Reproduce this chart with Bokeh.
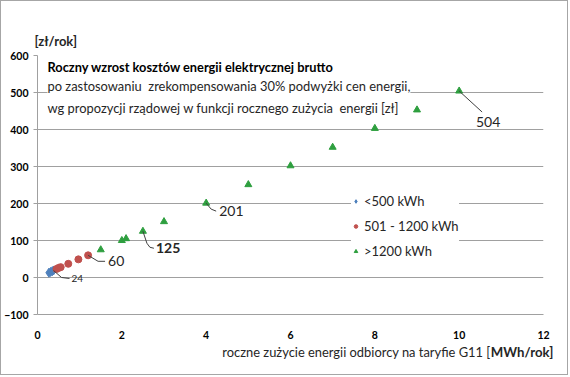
from bokeh.plotting import figure
from bokeh.models import Label, Range1d, FixedTicker, ColumnDataSource
from bokeh.embed import file_html
from bokeh.resources import INLINE

# ---- data ----
blue_x = [0.27, 0.31, 0.35, 0.38]
blue_y = [13, 15, 17, 19]
red_x = [0.45, 0.50, 0.55, 0.73, 0.97, 1.20]
red_y = [23, 26, 28, 37, 49, 60]
green_x = [1.5, 2.0, 2.1, 2.5, 3.0, 4.0, 5.0, 6.0, 7.0, 8.0, 9.0, 10.0]
green_y = [75, 100, 105, 125, 151, 201, 251, 302, 352, 403, 453, 504]
series_names = ["<500 kWh", "501 - 1200 kWh", ">1200 kWh"]
x_ticks = [0, 2, 4, 6, 8, 10, 12]
y_ticks = [-100, 0, 100, 200, 300, 400, 500, 600]
label_texts = ["24", "60", "125", "201", "504"]

FONT = "Lato"
GRID = "#a0a0a0"
TXT = "#262626"

p = figure(width=568, height=375, x_range=Range1d(0, 12), y_range=Range1d(-100, 600),
           output_backend="svg", toolbar_location=None,
           min_border_left=35, min_border_right=26, min_border_top=54, min_border_bottom=62)
p.styles = {"border": "1px solid #a6a6a6"}
p.outline_line_color = None
p.background_fill_color = "white"
p.border_fill_color = "white"

# y unit label as the plot title
p.title.text = "[zł/rok]"
p.title.align = "left"
p.title.offset = -3
p.title.standoff = 14
p.title.text_font = FONT
p.title.text_font_size = "13px"
p.title.text_font_style = "bold"
p.title.text_color = TXT

# pixel -> data helpers (frame 507 x 259 px)
DX = 12 / 507.0
DY = 700 / 259.0

# axes
p.xgrid.visible = False
p.ygrid.grid_line_color = GRID
p.ygrid.ticker = FixedTicker(ticks=y_ticks)
p.yaxis.ticker = FixedTicker(ticks=y_ticks)
p.xaxis.ticker = FixedTicker(ticks=x_ticks)
for ax in (p.xaxis[0], p.yaxis[0]):
    ax.major_label_text_font = FONT
    ax.major_label_text_font_style = "bold"
    ax.major_label_text_font_size = "10.5px"
    ax.major_label_text_color = "#000000"
    ax.minor_tick_line_color = None
p.yaxis.axis_line_color = GRID
p.yaxis.major_tick_line_color = GRID
p.yaxis.major_tick_out = 4
p.yaxis.major_tick_in = 0
p.yaxis.major_label_standoff = 5
p.xaxis.axis_line_color = GRID
p.xaxis.major_tick_line_color = None
p.xaxis.major_label_standoff = 10

# series
sb = ColumnDataSource(dict(x=blue_x, y=blue_y))
sr = ColumnDataSource(dict(x=red_x, y=red_y))
sg = ColumnDataSource(dict(x=green_x, y=green_y))
p.scatter("x", "y", source=sb, marker="diamond", size=9, color="#4f81bd", legend_label=series_names[0])
p.scatter("x", "y", source=sr, marker="circle", size=7, color="#c0504d", legend_label=series_names[1])
p.scatter("x", "y", source=sg, marker="triangle", size=7, color="#2e9f3f", legend_label=series_names[2])

leg = p.legend[0]
leg.location = (314, 53)
leg.background_fill_color = "white"
leg.background_fill_alpha = 1.0
leg.border_line_color = None
leg.label_text_font = FONT
leg.label_text_font_size = "13px"
leg.label_text_color = TXT
leg.glyph_width = 9
leg.glyph_height = 10
leg.label_height = 20
leg.spacing = 5
leg.padding = 14
leg.margin = 0
leg.label_standoff = 4

# data labels with leader lines: (x, y, text, leader path px, text offset px, size, bold, align)
anns = [
    (blue_x[-1], blue_y[-1], label_texts[0], [(0, 0), (8, 7), (16, 8)], (18, 8), "10px", "normal", "left"),
    (red_x[-1], red_y[-1], label_texts[1], [(0, 0), (10, 6), (17, 6)], (20, 6), "14px", "normal", "left"),
    (green_x[3], green_y[3], label_texts[2], [(0, 0), (4, 12), (7, 16), (11, 17)], (13, 17), "14px", "bold", "left"),
    (green_x[5], green_y[5], label_texts[3], [(0, 0), (5, 6), (10, 8)], (13, 8), "14px", "normal", "left"),
    (green_x[11], green_y[11], label_texts[4], [(0, 0), (23, 21)], (29, 31), "14px", "normal", "center"),
]
for ax_, ay_, t, path, off, fs, fst, al in anns:
    xs = [ax_ + dx * DX for dx, dy in path]
    ys = [ay_ - dy * DY for dx, dy in path]
    p.line(xs, ys, line_color="#404040", line_width=1)
    p.add_layout(Label(x=ax_ + off[0] * DX, y=ay_ - off[1] * DY, text=t, text_font=FONT,
                       text_font_size=fs, text_font_style=fst, text_color=TXT,
                       text_baseline="middle", text_align=al))

# text box inside the plot
p.add_layout(Label(x=(46 - 36) * DX, y=600 - (66 - 55) * DY,
                   text="Roczny wzrost kosztów energii elektrycznej brutto",
                   text_font=FONT, text_font_size="12.8px", text_font_style="bold",
                   text_color="#000000", text_baseline="middle"))
p.add_layout(Label(x=(46 - 36) * DX, y=600 - (77 - 55) * DY,
                   text="po zastosowaniu\u00a0 zrekompensowania 30% podwyżki cen energii,\nwg propozycji rządowej w funkcji rocznego zużycia\u00a0 energii [zł]",
                   text_font=FONT, text_font_size="12.9px", text_color=TXT,
                   text_baseline="top", text_line_height=1.38,
                   background_fill_color="white"))

# x axis title, mixed weight (placed in the panel below the axis)
yx = -100 - (351 - 314) * DY
p.add_layout(Label(x=(553 - 36) * DX, y=yx, text="MWh/rok]", text_font=FONT, text_font_size="13.2px",
                   text_font_style="bold", text_color=TXT, text_baseline="middle", text_align="right"), "below")
p.add_layout(Label(x=(490 - 36) * DX, y=yx, text="roczne zużycie energii odbiorcy na taryfie G11 [",
                   text_font=FONT, text_font_size="12.9px", text_color=TXT,
                   text_baseline="middle", text_align="right"), "below")

open("out.html", "w").write(file_html(p, INLINE))
